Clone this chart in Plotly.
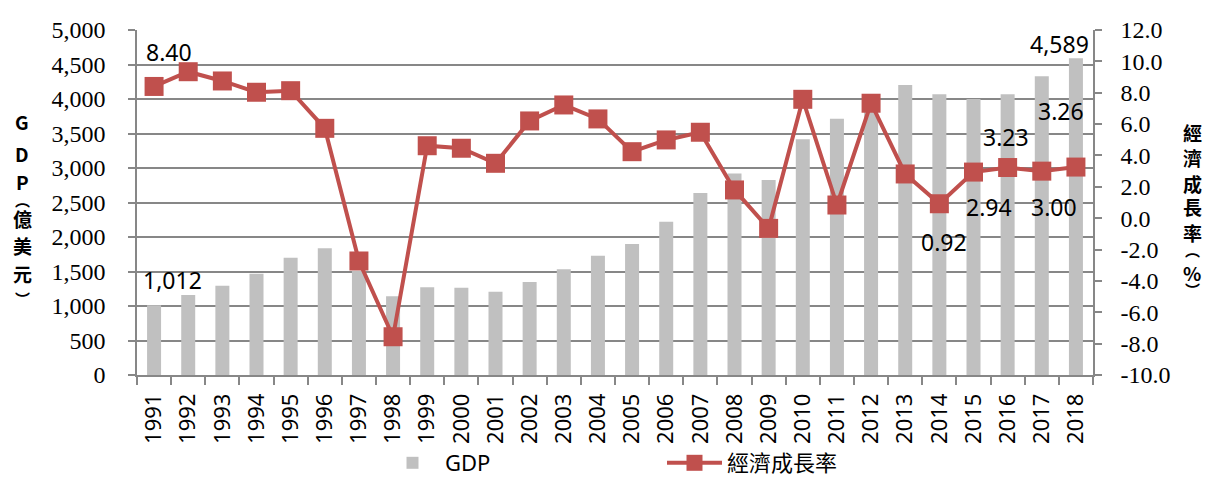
import plotly.graph_objects as go

years = [str(y) for y in range(1991, 2019)]
gdp = [1012, 1159, 1294, 1468, 1700, 1836, 1510, 1140, 1271, 1266, 1208, 1348, 1531, 1729,
       1899, 2222, 2638, 2922, 2826, 3415, 3715, 3970, 4203, 4068, 4000, 4068, 4328, 4589]
growth = [8.40, 9.34, 8.75, 8.03, 8.13, 5.73, -2.73, -7.56, 4.62, 4.46, 3.50, 6.20, 7.22, 6.33,
          4.24, 4.99, 5.48, 1.80, -0.65, 7.58, 0.84, 7.33, 2.82, 0.92, 2.94, 3.23, 3.00, 3.26]
left_ticks = list(range(0, 5001, 500))
right_ticks = [float(v) for v in range(-10, 13, 2)]

W, H = 1206, 477
L, R, T, B = 137, 1093, 30, 375

def px(x):
    return (x - L) / (R - L)

def py(y):
    return (B - y) / (B - T)

GRID = "#878787"
RED = "#c0504d"
BAR = "#c0c0c0"
SANS = "Noto Sans, Noto Sans CJK TC"
SERIF = "Liberation Serif"

fig = go.Figure()
fig.add_trace(go.Bar(x=years, y=gdp, name="GDP", marker=dict(color=BAR, line=dict(width=0)),
                     yaxis="y"))
fig.add_trace(go.Scatter(x=years, y=growth, name="經濟成長率",
                         yaxis="y2", mode="lines+markers",
                         line=dict(color=RED, width=4),
                         marker=dict(symbol="square", size=19, color=RED)))

annotations = []
labels = [
    (0, "8.40", "y2", 15, 34),
    (0, "1,012", "y", 18, 25),
    (27, "4,589", "y", -16, 14),
    (27, "3.26", "y2", -15, 56),
    (25, "3.23", "y2", -2, 31),
    (24, "2.94", "y2", 15, -35),
    (26, "3.00", "y2", 12, -36),
    (23, "0.92", "y2", 5, -38),
]
for i, txt, ax, xs, ys in labels:
    val = gdp[i] if ax == "y" else growth[i]
    annotations.append(dict(x=i, y=val, xref="x", yref=ax, text=txt, showarrow=False,
                            xshift=xs, yshift=ys, xanchor="center", yanchor="middle",
                            font=dict(family=SANS, size=23, color="black")))

left_title = [("G", 121, 19), ("D", 153, 19), ("P", 181, 19), ("︵", 199, 15), ("億", 218, 19),
              ("美", 245, 19), ("元", 273, 19), ("︶", 298, 15)]
for ch, yy, fs in left_title:
    annotations.append(dict(x=px(22), y=py(yy), xref="paper", yref="paper", text="<b>%s</b>" % ch,
                            showarrow=False, xanchor="center", yanchor="middle",
                            font=dict(family="Noto Sans CJK TC", size=fs, color="black")))
right_title = [("經", 132, 19), ("濟", 157, 19), ("成", 183, 19), ("長", 207, 19), ("率", 232, 19),
               ("︵", 249, 15), ("%", 272, 19), ("︶", 289, 15)]
for ch, yy, fs in right_title:
    annotations.append(dict(x=px(1192), y=py(yy), xref="paper", yref="paper", text="<b>%s</b>" % ch,
                            showarrow=False, xanchor="center", yanchor="middle",
                            font=dict(family="Noto Sans CJK TC", size=fs, color="black")))

fig.update_layout(
    width=W, height=H,
    margin=dict(l=L, r=W - R, t=T, b=H - B, autoexpand=False),
    paper_bgcolor="white", plot_bgcolor="white",
    bargap=0.59,
    showlegend=True,
    legend=dict(orientation="h", x=px(380), y=py(463), xanchor="left", yanchor="middle",
                font=dict(family=SANS, size=22, color="black"), entrywidth=212,
                entrywidthmode="pixels", itemwidth=55, bgcolor="rgba(0,0,0,0)"),
    xaxis=dict(type="category", range=[-0.5, len(years) - 0.5], tickangle=-90,
               ticks="outside", tickson="boundaries",
               ticklen=8, tickcolor=GRID, tickwidth=1.5, showline=True, linecolor=GRID,
               linewidth=1.5, showgrid=False, ticklabelstandoff=8,
               tickfont=dict(family=SANS, size=22, color="black")),
    yaxis=dict(range=[0, 5000], tickvals=left_ticks, ticktext=[f"{v:,}" for v in left_ticks],
               ticks="outside", ticklen=7, tickcolor=GRID, tickwidth=1.5,
               showline=True, linecolor=GRID, linewidth=1.5,
               showgrid=True, gridcolor=GRID, gridwidth=1.5, zeroline=False,
               ticklabelstandoff=18,
               tickfont=dict(family=SERIF, size=24, color="black")),
    yaxis2=dict(range=[-10, 12], tickvals=right_ticks, ticktext=[f"{v:.1f}" for v in right_ticks],
                overlaying="y", side="right", ticks="outside", ticklen=7, tickcolor=GRID,
                tickwidth=1.5, showline=True, linecolor=GRID, linewidth=1.5,
                showgrid=False, zeroline=False, ticklabelstandoff=14,
                tickfont=dict(family=SERIF, size=24, color="black")),
    annotations=annotations,
)

fig.write_html("out.html", config={"displayModeBar": False},
               post_script="document.body.style.margin='0';")
